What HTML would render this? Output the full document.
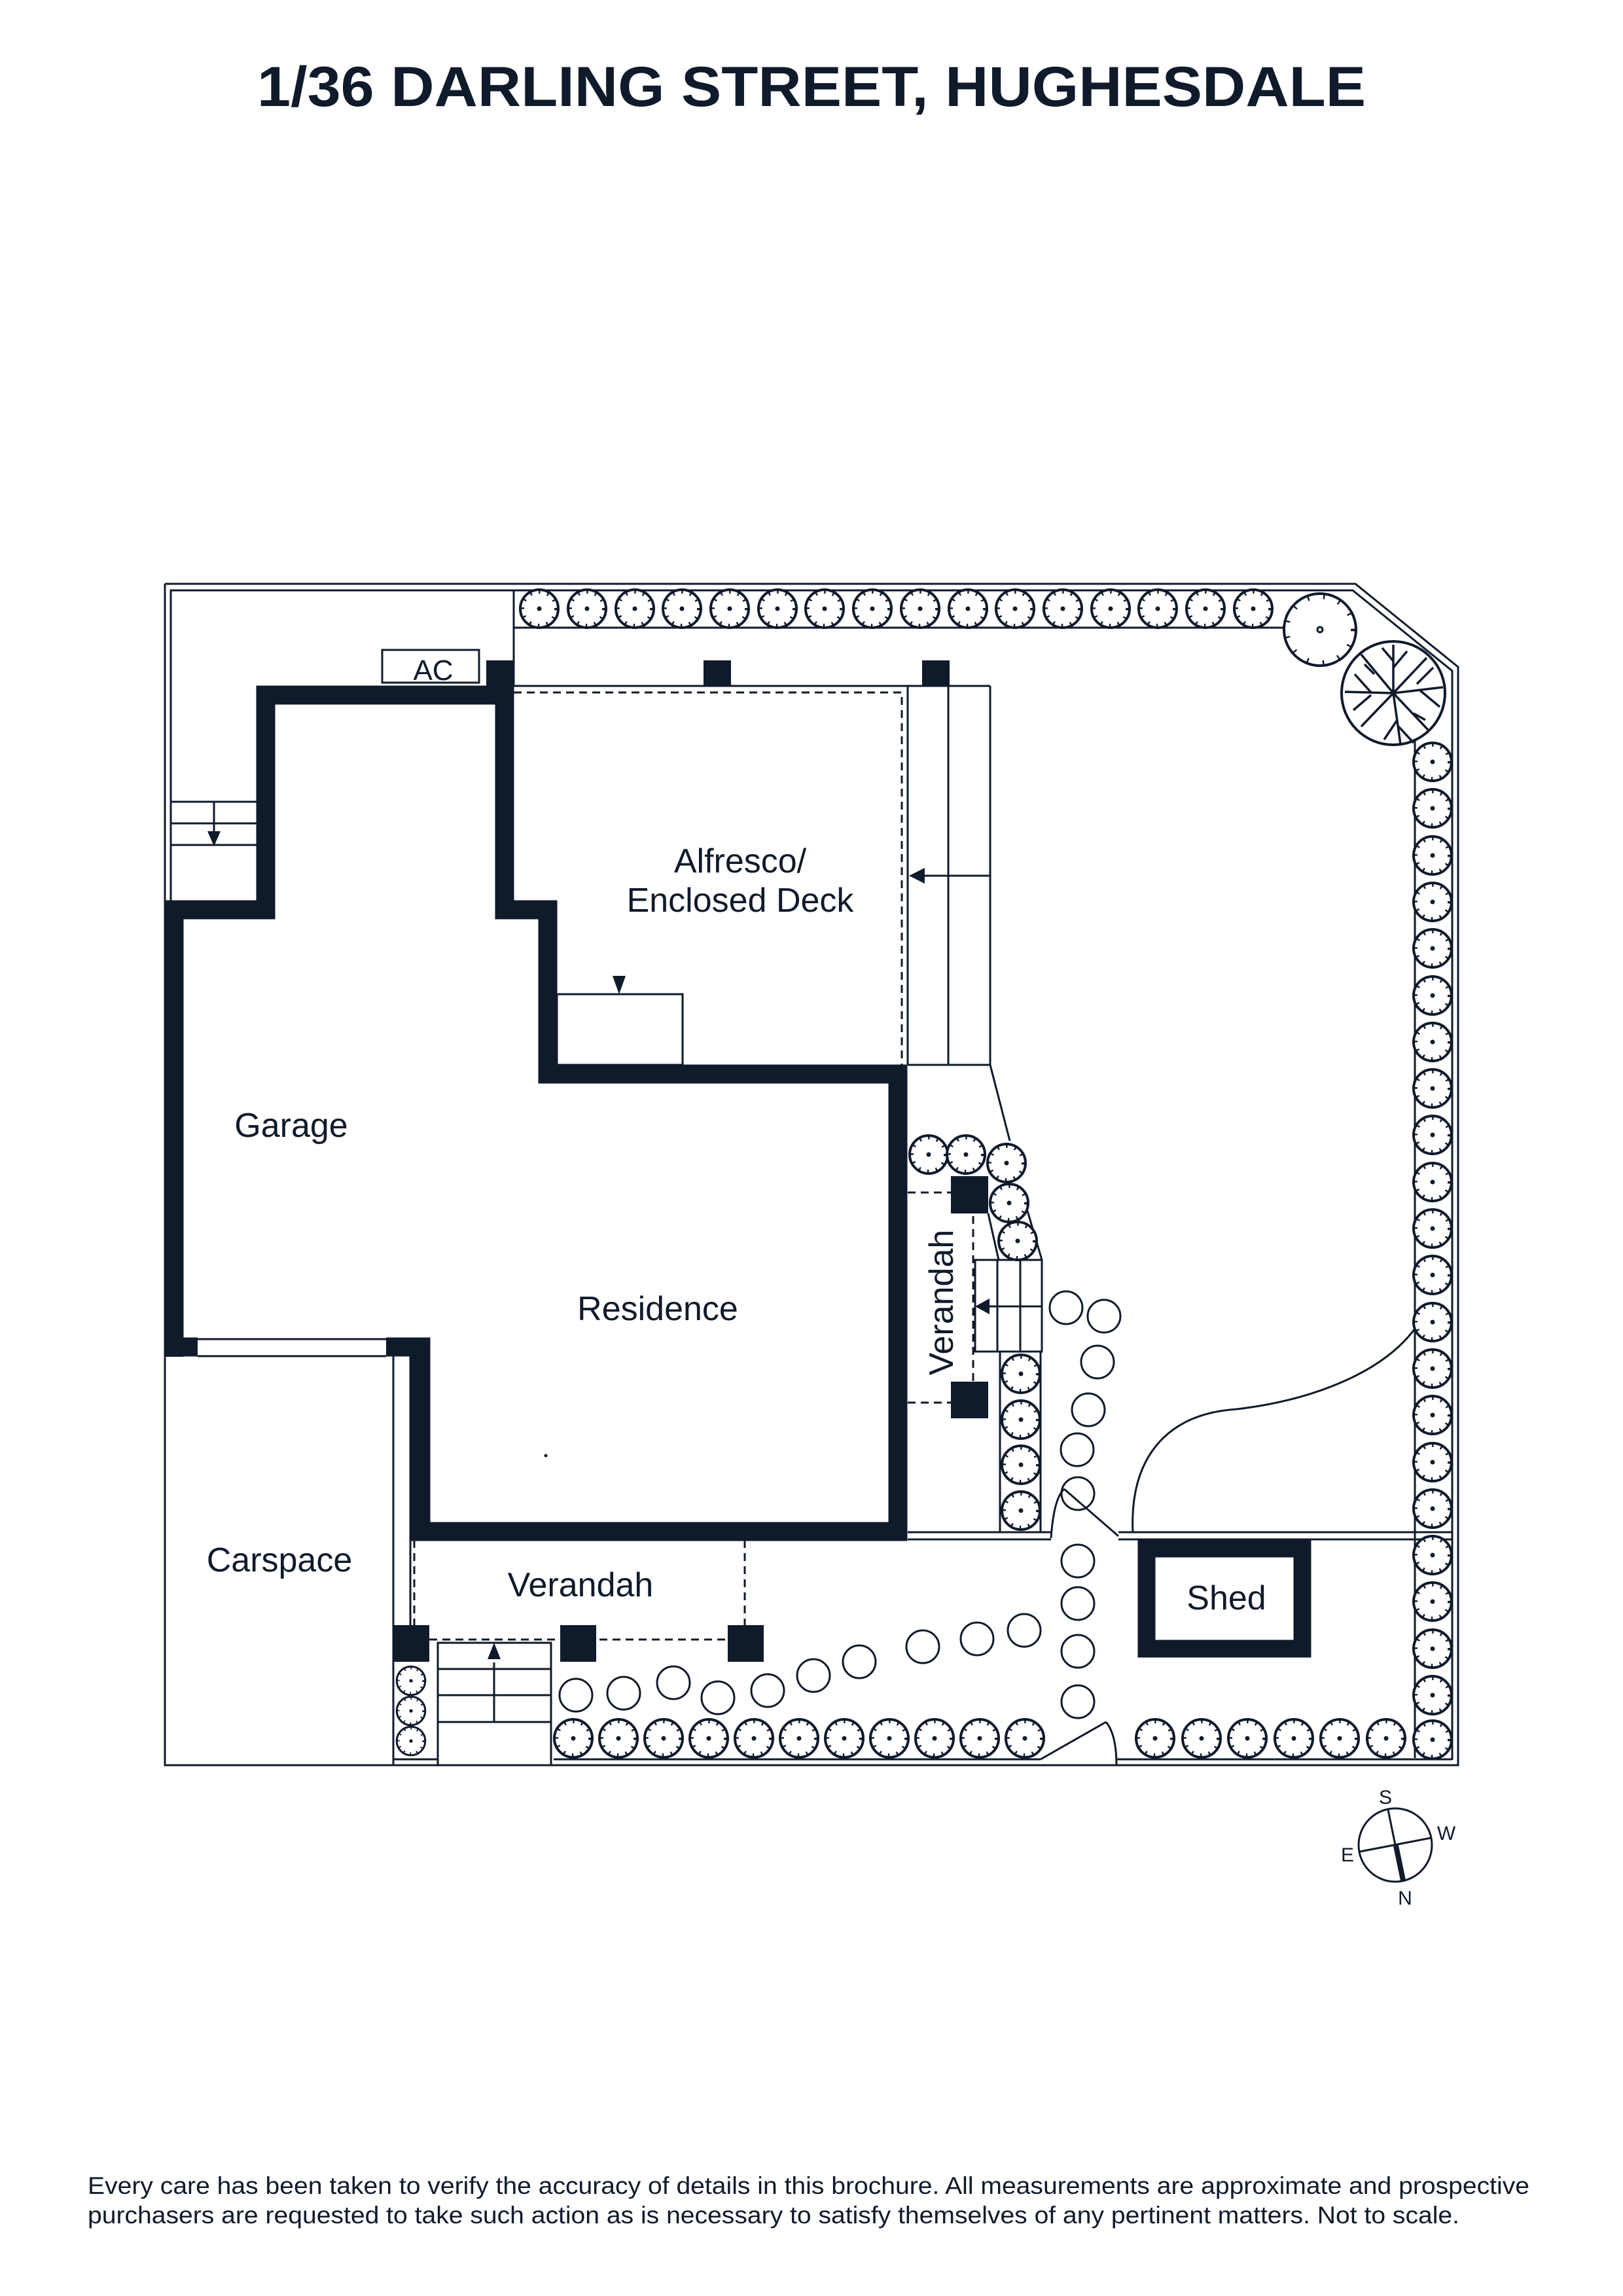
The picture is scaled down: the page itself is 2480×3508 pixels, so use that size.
<!DOCTYPE html>
<html><head><meta charset="utf-8"><style>
html,body{margin:0;padding:0;background:#fff}
svg{display:block}
text{font-family:"Liberation Sans",sans-serif;fill:#0f1a2b}
</style></head><body>
<svg width="2480" height="3508" viewBox="0 0 2480 3508" xmlns="http://www.w3.org/2000/svg">
<defs>
<g id="sh">
<circle r="29" fill="#fff" stroke="#0f1a2b" stroke-width="4"/>
<circle r="26" fill="none" stroke="#0f1a2b" stroke-width="6" stroke-dasharray="2.5 11"/>
<circle r="3.5" fill="#0f1a2b"/>
</g>
</defs>
<rect width="2480" height="3508" fill="#fff"/>
<text x="393" y="162" font-size="86" font-weight="bold" textLength="1694" lengthAdjust="spacingAndGlyphs">1/36 DARLING STREET, HUGHESDALE</text>

<g fill="none" stroke="#0f1a2b" stroke-width="3">
<polyline points="252,892 2071,892 2228,1019 2228,2697 252,2697 252,892"/>
<polyline points="261,1376 261,902 2067,902 2219,1025 2219,2689"/>
<line x1="785" y1="902" x2="785" y2="1048"/>
<line x1="785" y1="959" x2="1990" y2="959"/>
<line x1="2162" y1="1120" x2="2162" y2="2686"/>
<line x1="846" y1="2688" x2="1590" y2="2688"/>
<line x1="1706" y1="2688" x2="2219" y2="2688"/>
<line x1="601" y1="2688" x2="669" y2="2688"/>
<line x1="261" y1="1225" x2="392" y2="1225"/>
<line x1="261" y1="1258" x2="392" y2="1258"/>
<line x1="261" y1="1291" x2="392" y2="1291"/>
<line x1="327" y1="1225" x2="327" y2="1275"/>
<rect x="584" y="993" width="148" height="50"/>
<line x1="785" y1="1048" x2="1513" y2="1048"/>
<line x1="1387" y1="1048" x2="1387" y2="1627"/>
<line x1="1449" y1="1048" x2="1449" y2="1627"/>
<line x1="1513" y1="1048" x2="1513" y2="1627"/>
<line x1="1387" y1="1627" x2="1513" y2="1627"/>
<line x1="1405" y1="1338" x2="1513" y2="1338"/>
<rect x="851" y="1519" width="192" height="108"/>
<polyline points="1513,1627 1543,1743"/>
<line x1="1510" y1="1854" x2="1526" y2="1925"/>
<line x1="1570" y1="1850" x2="1592" y2="1925"/>
<rect x="1490" y="1925" width="102" height="140"/>
<line x1="1524" y1="1925" x2="1524" y2="2065"/>
<line x1="1559" y1="1925" x2="1559" y2="2065"/>
<line x1="1505" y1="1996" x2="1592" y2="1996"/>
<line x1="1590" y1="2065" x2="1590" y2="2341"/>
<line x1="1528" y1="2065" x2="1528" y2="2341"/>
<line x1="1387" y1="2341" x2="1606" y2="2341"/>
<line x1="1387" y1="2352" x2="1606" y2="2352"/>
<line x1="1709" y1="2341" x2="2219" y2="2341"/>
<line x1="1709" y1="2352" x2="2219" y2="2352"/>
<line x1="1626" y1="2275" x2="1709" y2="2347"/>
<path d="M1606,2350 Q1610,2290 1626,2275"/>
<path d="M1731,2341 C1726,2230 1780,2160 1890,2153 C2000,2140 2110,2100 2162,2030"/>
<line x1="302" y1="2046" x2="590" y2="2046"/>
<line x1="302" y1="2072" x2="590" y2="2072"/>
<line x1="601" y1="2072" x2="601" y2="2697"/>
<line x1="627" y1="2072" x2="627" y2="2483"/>
<line x1="252" y1="2072" x2="252" y2="2697"/>
<rect x="669" y="2510" width="173" height="187"/>
<line x1="669" y1="2550" x2="842" y2="2550"/>
<line x1="669" y1="2590" x2="842" y2="2590"/>
<line x1="669" y1="2631" x2="842" y2="2631"/>
<line x1="755" y1="2540" x2="755" y2="2631"/>
<line x1="1590" y1="2688" x2="1690" y2="2631"/>
<path d="M1690,2631 Q1706,2650 1706,2697"/>
<g stroke-width="3">
<circle cx="1629" cy="1998" r="25"/><circle cx="1687" cy="2011" r="25"/><circle cx="1677" cy="2081" r="25"/>
<circle cx="1663" cy="2154" r="25"/><circle cx="1646" cy="2215" r="25"/><circle cx="1647" cy="2282" r="25"/>
<circle cx="1647" cy="2385" r="25"/><circle cx="1647" cy="2450" r="25"/><circle cx="1647" cy="2523" r="25"/>
<circle cx="1647" cy="2600" r="25"/><circle cx="1565" cy="2491" r="25"/><circle cx="1493" cy="2504" r="25"/>
<circle cx="1410" cy="2516" r="25"/><circle cx="1313" cy="2539" r="25"/><circle cx="1243" cy="2560" r="25"/>
<circle cx="1173" cy="2583" r="25"/><circle cx="1097" cy="2594" r="25"/><circle cx="1029" cy="2571" r="25"/>
<circle cx="953" cy="2587" r="25"/><circle cx="880" cy="2590" r="25"/>
</g>
<g stroke-dasharray="12 8" stroke-width="3">
<polyline points="785,1058 1378,1058 1378,1627"/>
<polyline points="1387,1822 1453,1822"/>
<line x1="1487" y1="1858" x2="1487" y2="2111"/>
<polyline points="1387,2143 1453,2143"/>
<line x1="633" y1="2353" x2="633" y2="2483"/>
<line x1="1138" y1="2353" x2="1138" y2="2483"/>
<line x1="656" y1="2505" x2="1114" y2="2505"/>
</g>
</g>

<g fill="#0f1a2b">
<polygon points="317,1270 337,1270 327,1293"/>
<polygon points="936,1491 956,1491 946,1519"/>
<polygon points="1389,1338 1413,1326 1413,1350"/>
<polygon points="1490,1996 1512,1984 1512,2008"/>
<polygon points="755,2510 745,2535 765,2535"/>
</g>

<g fill="none" stroke="#0f1a2b" stroke-width="29" stroke-linejoin="miter">
<polyline points="266,2073 266,1390 406,1390 406,1062 771,1062 771,1390 837,1390 837,1641 1372,1641 1372,2340 643,2340 643,2058 590,2058"/>
<line x1="252" y1="2058" x2="302" y2="2058"/>
</g>
<g fill="#0f1a2b">
<rect x="743" y="1009" width="42" height="45"/>
<rect x="1075" y="1009" width="42" height="40"/>
<rect x="1409" y="1009" width="42" height="40"/>
<rect x="1453" y="1797" width="57" height="57"/>
<rect x="1453" y="2111" width="57" height="56"/>
<rect x="601" y="2483" width="55" height="56"/>
<rect x="856" y="2483" width="55" height="56"/>
<rect x="1112" y="2483" width="55" height="56"/>
</g>
<rect x="1752" y="2366" width="238" height="153" fill="none" stroke="#0f1a2b" stroke-width="27"/>

<g>
<use href="#sh" x="824" y="930"/><use href="#sh" x="897" y="930"/><use href="#sh" x="970" y="930"/><use href="#sh" x="1042" y="930"/>
<use href="#sh" x="1115" y="930"/><use href="#sh" x="1188" y="930"/><use href="#sh" x="1260" y="930"/><use href="#sh" x="1333" y="930"/>
<use href="#sh" x="1406" y="930"/><use href="#sh" x="1479" y="930"/><use href="#sh" x="1551" y="930"/><use href="#sh" x="1624" y="930"/>
<use href="#sh" x="1697" y="930"/><use href="#sh" x="1769" y="930"/><use href="#sh" x="1842" y="930"/><use href="#sh" x="1915" y="930"/>
</g>
<g>
<use href="#sh" x="2189" y="1164"/><use href="#sh" x="2189" y="1235"/><use href="#sh" x="2189" y="1307"/><use href="#sh" x="2189" y="1378"/>
<use href="#sh" x="2189" y="1449"/><use href="#sh" x="2189" y="1521"/><use href="#sh" x="2189" y="1592"/><use href="#sh" x="2189" y="1663"/>
<use href="#sh" x="2189" y="1734"/><use href="#sh" x="2189" y="1806"/><use href="#sh" x="2189" y="1877"/><use href="#sh" x="2189" y="1948"/>
<use href="#sh" x="2189" y="2020"/><use href="#sh" x="2189" y="2091"/><use href="#sh" x="2189" y="2162"/><use href="#sh" x="2189" y="2234"/>
<use href="#sh" x="2189" y="2305"/><use href="#sh" x="2189" y="2376"/><use href="#sh" x="2189" y="2447"/><use href="#sh" x="2189" y="2519"/>
<use href="#sh" x="2189" y="2590"/><use href="#sh" x="2189" y="2658"/>
</g>
<g>
<use href="#sh" x="1765" y="2656"/><use href="#sh" x="1836" y="2656"/><use href="#sh" x="1906" y="2656"/><use href="#sh" x="1977" y="2656"/>
<use href="#sh" x="2047" y="2656"/><use href="#sh" x="2118" y="2656"/>
</g>
<g>
<use href="#sh" x="876" y="2656"/><use href="#sh" x="945" y="2656"/><use href="#sh" x="1014" y="2656"/><use href="#sh" x="1083" y="2656"/>
<use href="#sh" x="1152" y="2656"/><use href="#sh" x="1221" y="2656"/><use href="#sh" x="1290" y="2656"/><use href="#sh" x="1359" y="2656"/>
<use href="#sh" x="1428" y="2656"/><use href="#sh" x="1497" y="2656"/><use href="#sh" x="1566" y="2656"/>
</g>
<g>
<g transform="translate(628,2568) scale(0.75)"><use href="#sh"/></g>
<g transform="translate(628,2614) scale(0.75)"><use href="#sh"/></g>
<g transform="translate(628,2660) scale(0.75)"><use href="#sh"/></g>
<use href="#sh" x="1419" y="1764"/><use href="#sh" x="1476" y="1764"/><use href="#sh" x="1538" y="1777"/>
<use href="#sh" x="1542" y="1838"/><use href="#sh" x="1555" y="1896"/>
<use href="#sh" x="1560" y="2099"/><use href="#sh" x="1560" y="2169"/><use href="#sh" x="1560" y="2238"/><use href="#sh" x="1560" y="2308"/>
</g>
<g fill="#fff" stroke="#0f1a2b" stroke-width="4">
<circle cx="2017" cy="962" r="55"/>
<circle cx="2017" cy="962" r="51" fill="none" stroke-width="8" stroke-dasharray="2.5 22"/>
<circle cx="2017" cy="962" r="4" fill="#fff" stroke-width="3"/>
<circle cx="2129" cy="1059" r="79"/>
<g fill="none" stroke-width="3.5">
<path d="M2129,1059 L2129,985 M2129,1059 L2205,1050 M2129,1059 L2140,1137 M2129,1059 L2055,1057 M2129,1059 L2080,1110 M2129,1059 L2180,1005 M2129,1059 L2182,1115 M2129,1059 L2080,1000"/>
<path d="M2129,1010 L2112,990 M2129,1020 L2150,995 M2165,1045 L2190,1020 M2170,1055 L2200,1080 M2135,1100 L2115,1130 M2137,1110 L2160,1135 M2095,1058 L2070,1030 M2095,1062 L2068,1085 M2100,1030 L2085,1015 M2160,1090 L2178,1100"/>
</g>
</g>

<g font-size="52">
<text x="662" y="1039" font-size="44" text-anchor="middle">AC</text>
<text x="1131" y="1333" text-anchor="middle">Alfresco/</text>
<text x="1131" y="1393" text-anchor="middle">Enclosed Deck</text>
<text x="445" y="1737" text-anchor="middle">Garage</text>
<text x="1005" y="2017" text-anchor="middle">Residence</text>
<text x="427" y="2401" text-anchor="middle">Carspace</text>
<text x="887" y="2439" text-anchor="middle">Verandah</text>
<text x="1874" y="2459" text-anchor="middle">Shed</text>
<text transform="translate(1456,1990) rotate(-90)" text-anchor="middle">Verandah</text>
</g>
<circle cx="834" cy="2224" r="2.5" fill="#0f1a2b"/>

<g stroke="#0f1a2b" fill="none">
<circle cx="2132" cy="2819" r="56" stroke-width="3"/>
<line x1="2121" y1="2765" x2="2143" y2="2873" stroke-width="3"/>
<line x1="2078" y1="2829" x2="2187" y2="2808" stroke-width="3"/>
<line x1="2133" y1="2820" x2="2144" y2="2873" stroke-width="8"/>
</g>
<g font-size="30" text-anchor="middle">
<text x="2117" y="2756">S</text>
<text x="2210" y="2811">W</text>
<text x="2059" y="2844">E</text>
<text x="2147" y="2910">N</text>
</g>

<text x="134" y="3352" font-size="37" textLength="2203" lengthAdjust="spacingAndGlyphs">Every care has been taken to verify the accuracy of details in this brochure. All measurements are approximate and prospective</text>
<text x="134" y="3397" font-size="37" textLength="2096" lengthAdjust="spacingAndGlyphs">purchasers are requested to take such action as is necessary to satisfy themselves of any pertinent matters. Not to scale.</text>
</svg>
</body></html>
